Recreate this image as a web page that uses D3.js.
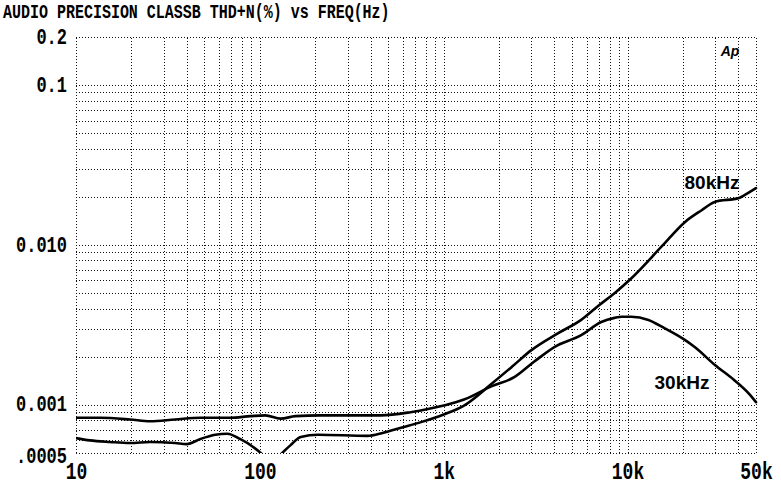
<!DOCTYPE html>
<html>
<head>
<meta charset="utf-8">
<script src="https://cdn.jsdelivr.net/npm/d3@7"></script>
<style>
  html, body { margin: 0; padding: 0; background: #fff; }
  svg { display: block; }
</style>
</head>
<body>
<svg id="chart" width="781" height="486"></svg>
<script>
// ---- data ----
const titleText = "AUDIO PRECISION CLASSB THD+N(%) vs FREQ(Hz)";

const freq80 = [10, 11.9, 15.3, 19.7, 25.3, 34.6, 40, 47.5, 57.3, 66.5, 78, 92, 103, 115, 130, 147, 167, 207, 385, 470, 586, 753, 1000, 1290, 1830, 2350, 3000, 4200, 5600, 7000, 8500, 10500, 15300, 20500, 25300, 29800, 40400, 43500, 50000];
const thd80  = [0.00062, 0.0006, 0.000586, 0.000577, 0.000586, 0.000577, 0.000568, 0.000612, 0.00065, 0.00066, 0.000612, 0.000545, 0.00049, 0.00042, 0.00049, 0.00056, 0.00063, 0.00065, 0.00064, 0.00067, 0.00072, 0.00078, 0.00087, 0.00099, 0.00136, 0.00173, 0.0022, 0.00281, 0.0034, 0.0042, 0.005, 0.0062, 0.00976, 0.0139, 0.0165, 0.0186, 0.0197, 0.0206, 0.0227];

const freq30 = [10, 13.5, 19.7, 25.3, 34.6, 47.5, 69, 89, 107, 130, 156, 213, 455, 660, 1000, 1290, 1830, 2420, 3100, 4000, 5600, 7200, 8500, 9300, 10500, 13000, 15800, 20500, 23200, 30000, 38000, 45600, 50000];
const thd30  = [0.00083, 0.00083, 0.00081, 0.00079, 0.00081, 0.00083, 0.00083, 0.00085, 0.00086, 0.00082, 0.00085, 0.00086, 0.00086, 0.0009, 0.00099, 0.00108, 0.00131, 0.00149, 0.00186, 0.0023, 0.00273, 0.0033, 0.0035, 0.00356, 0.00356, 0.0034, 0.00303, 0.00255, 0.0023, 0.00177, 0.00143, 0.00118, 0.00104];

const xTickValues = [10, 100, 1000, 10000, 50000];
const xTickLabels = ["10", "100", "1k", "10k", "50k"];
const yTickValues = [0.0005, 0.001, 0.01, 0.1, 0.2];
const yTickLabels = [".0005", "0.001", "0.010", "0.1", "0.2"];

const seriesLabels = ["80kHz", "30kHz"];

// ---- layout ----
const svg = d3.select("#chart");
const pL = 76, pR = 756, pT = 37, pB = 453;
const monoFont = "'Liberation Mono', 'DejaVu Sans Mono', monospace";

const x = d3.scaleLog().domain([10, 50000]).range([pL, pR]);
const y = d3.scaleLog().domain([0.0005, 0.2]).range([pB, pT]);

const xGrid = [];
[10, 100, 1000, 10000].forEach(d => { for (let m = 1; m <= 9; m++) { const v = d * m; if (v <= 50000) xGrid.push(v); } });
xGrid.push(50000);
const yGrid = [];
[0.0001, 0.001, 0.01, 0.1].forEach(d => { for (let m = 1; m <= 9; m++) { const v = +(d * m).toPrecision(3); if (v >= 0.0005 && v <= 0.2) yGrid.push(v); } });
yGrid.push(0.2);

const gx = svg.append("g")
  .attr("transform", `translate(0.5,${pB})`)
  .call(d3.axisBottom(x).tickValues(Array.from(new Set(xGrid))).tickSize(-(pB - pT)).tickFormat(""));
gx.select(".domain").remove();
gx.selectAll(".tick").attr("transform", d => `translate(${Math.round(x(d))},0)`);
gx.selectAll("line").attr("stroke", "#111").attr("stroke-width", 1).attr("stroke-dasharray", "1,2")
  .attr("shape-rendering", "crispEdges");

const gy = svg.append("g")
  .attr("transform", `translate(${pL},0.5)`)
  .call(d3.axisLeft(y).tickValues(Array.from(new Set(yGrid))).tickSize(-(pR - pL)).tickFormat(""));
gy.select(".domain").remove();
gy.selectAll(".tick").attr("transform", d => `translate(0,${Math.round(y(d))})`);
gy.selectAll("line").attr("stroke", "#111").attr("stroke-width", 1).attr("stroke-dasharray", "1,2")
  .attr("shape-rendering", "crispEdges");

const ax = svg.append("g")
  .attr("transform", `translate(0,${pB})`)
  .call(d3.axisBottom(x).tickValues(xTickValues).tickSize(0).tickPadding(0)
    .tickFormat((d, i) => xTickLabels[i]));
ax.select(".domain").remove();
ax.selectAll("text")
  .attr("font-family", monoFont)
  .attr("font-weight", "bold").attr("font-size", 18).attr("fill", "#000")
  .attr("y", 0).attr("dy", 0)
  .attr("transform", "translate(0,26) scale(1,1.3)");

const ay = svg.append("g")
  .attr("transform", `translate(${pL},0)`)
  .call(d3.axisLeft(y).tickValues(yTickValues).tickSize(0).tickPadding(9)
    .tickFormat((d, i) => yTickLabels[i]));
ay.select(".domain").remove();
ay.selectAll("text")
  .attr("font-family", monoFont)
  .attr("font-weight", "bold").attr("font-size", 17).attr("fill", "#000")
  .attr("dy", 0).attr("y", 0)
  .attr("transform", d => `translate(0,${d === 0.0005 ? 9 : 6}) scale(1,1.3)`);

svg.append("text")
  .attr("font-family", monoFont)
  .attr("font-weight", "bold").attr("font-size", 15)
  .attr("fill", "#000")
  .attr("transform", "translate(3,18) scale(1,1.3)")
  .text(titleText);

svg.append("clipPath").attr("id", "plotclip")
  .append("rect").attr("x", pL).attr("y", pT - 5).attr("width", pR - pL + 4).attr("height", pB - pT + 5);

const line = d3.line().x(d => x(d[0])).y(d => y(d[1])).curve(d3.curveMonotoneX);

const series = [d3.zip(freq80, thd80), d3.zip(freq30, thd30)];
svg.append("g").attr("clip-path", "url(#plotclip)")
  .selectAll("path").data(series).join("path")
  .attr("d", line)
  .attr("fill", "none").attr("stroke", "#000").attr("stroke-width", 2.6)
  .attr("stroke-linejoin", "round").attr("stroke-linecap", "round");

svg.append("text").attr("x", 712).attr("y", 189)
  .attr("text-anchor", "middle")
  .attr("font-family", "'Liberation Sans', Arial, sans-serif")
  .attr("font-weight", "bold").attr("font-size", 19).attr("fill", "#000")
  .text(seriesLabels[0]);
svg.append("text").attr("x", 682).attr("y", 389)
  .attr("text-anchor", "middle")
  .attr("font-family", "'Liberation Sans', Arial, sans-serif")
  .attr("font-weight", "bold").attr("font-size", 19).attr("fill", "#000")
  .attr("stroke", "#fff").attr("stroke-width", 3).attr("paint-order", "stroke")
  .text(seriesLabels[1]);

svg.append("text").attr("x", 730).attr("y", 56)
  .attr("text-anchor", "middle")
  .attr("font-family", "'Liberation Sans', Arial, sans-serif")
  .attr("font-style", "italic").attr("font-weight", "bold").attr("font-size", 14).attr("fill", "#000")
  .text("Ap");
</script>
</body>
</html>
